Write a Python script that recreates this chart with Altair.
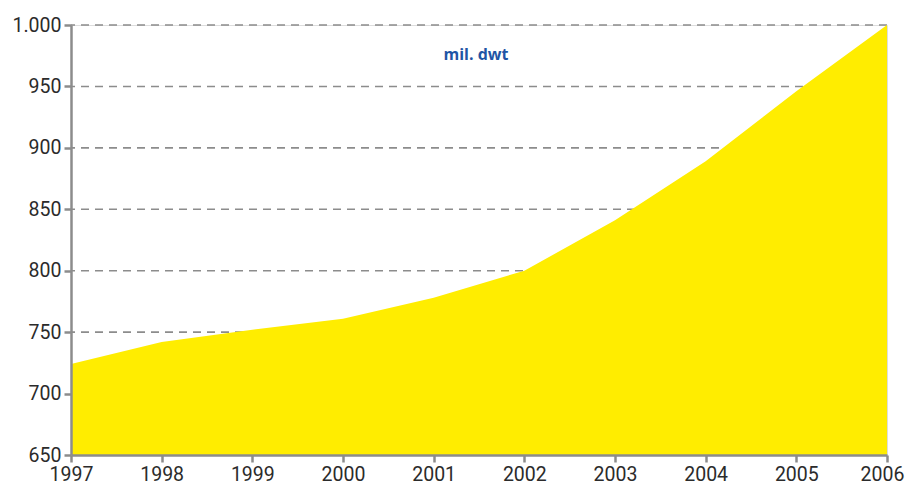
import altair as alt
import pandas as pd

years = [1997, 1998, 1999, 2000, 2001, 2002, 2003, 2004, 2005, 2006]
values = [724, 742, 752, 761, 778, 800, 841, 889, 946, 1000]
y_ticks = [650, 700, 750, 800, 850, 900, 950, 1000]
grid_values = [700, 750, 800, 850, 900, 950, 1000]
unit_label = "mil. dwt"

df = pd.DataFrame({"year": years, "value": values})
grid_df = pd.DataFrame({"g": grid_values})

x_scale = alt.Scale(domain=[1997, 2006], nice=False, zero=False)
y_scale = alt.Scale(domain=[650, 1000], nice=False, zero=False)

axis_common = dict(
    domainColor="#8c8c8c", domainWidth=2.5, tickColor="#8c8c8c", tickWidth=2.5,
    tickSize=7, labelColor="#2b2b2b", labelFontSize=19.5, labelFont="Roboto",
    grid=False, zindex=1, title=None, labelFlush=False,
)

y_axis = alt.Axis(values=y_ticks, labelPadding=3,
                  labelExpr="replace(format(datum.value, ','), ',', '.')",
                  **axis_common)
x_axis = alt.Axis(values=years, format="d", labelPadding=3,
                  labelOffset=alt.ExprRef("datum.value == 2006 ? -5 : 0"),
                  **axis_common)

grid = alt.Chart(grid_df).mark_rule(color="#8c8c8c", strokeWidth=1.6, strokeDash=[8, 6]).encode(
    y=alt.Y("g:Q", scale=y_scale, axis=y_axis),
)

area = alt.Chart(df).mark_area(color="#FFED00", opacity=1, interpolate="linear", clip=True).encode(
    x=alt.X("year:Q", scale=x_scale, axis=x_axis),
    y=alt.Y("value:Q", scale=y_scale, axis=y_axis),
    y2=alt.datum(650),
)

label = alt.Chart(pd.DataFrame({"t": [unit_label]})).mark_text(
    color="#1f55a5", fontSize=16, fontWeight="bold", font="Open Sans"
).encode(text="t:N", x=alt.value(405), y=alt.value(30))

chart = alt.layer(grid, area, label).properties(
    width=816, height=430,
    padding={"left": 63, "top": 17, "right": 18, "bottom": 33},
    autosize=alt.AutoSizeParams(type="none"),
).configure_view(stroke=None).configure(background="white")

chart.save("out.html", embed_options={"renderer": "svg", "actions": False})
